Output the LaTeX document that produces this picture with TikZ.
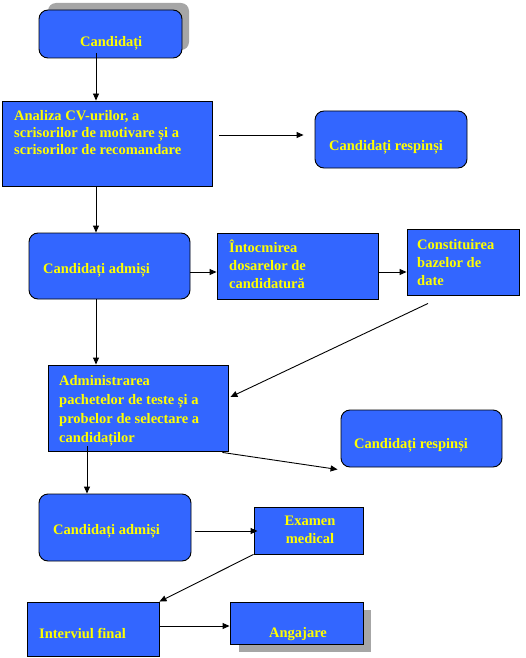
\documentclass[tikz,border=0pt]{standalone}
\usepackage{fontspec}
\setmainfont{Liberation Serif}
\usetikzlibrary{arrows.meta}
\definecolor{boxblue}{HTML}{3366FF}
\definecolor{txtyellow}{HTML}{FFFF00}
\tikzset{
  box/.style={draw=black,line width=0.9pt,fill=boxblue,inner sep=0pt},
  rbox/.style={box,rounded corners=9pt},
  txt/.style={text=txtyellow,inner sep=0pt,align=left,
    font=\fontsize{14.5}{18}\selectfont\bfseries},
  arr/.style={line width=0.9pt,-{Triangle[length=7pt,width=6pt]}},
  shadowfill/.style={fill=black!35}
}
\newcommand{\firstline}{\rule{0pt}{13pt}}
\begin{document}
\begin{tikzpicture}[x=1pt,y=-1pt]
    \useasboundingbox (0,0) rectangle (525,658);

    % Shadows
    \fill[shadowfill,rounded corners=8pt] (48,3) rectangle (189,50);
    \fill[shadowfill] (239,610) rectangle (371,652);

    % Boxes
    \node[rbox,minimum width=143pt,minimum height=48pt] (cand) at (110.5,34) {};
    \node[box,minimum width=210pt,minimum height=85pt] (analiza) at (107,143.5) {};
    \node[rbox,minimum width=152pt,minimum height=57pt] (resp1) at (391,139.5) {};
    \node[rbox,minimum width=161pt,minimum height=66pt] (adm1) at (109.5,266) {};
    \node[box,minimum width=161pt,minimum height=66pt] (intoc) at (297.5,266) {};
    \node[box,minimum width=112pt,minimum height=66pt] (const) at (463,262) {};
    \node[box,minimum width=180pt,minimum height=86pt] (admin) at (138,408) {};
    \node[rbox,minimum width=161pt,minimum height=57pt] (resp2) at (421.5,438.5) {};
    \node[rbox,minimum width=152pt,minimum height=67pt] (adm2) at (115,527.5) {};
    \node[box,minimum width=109pt,minimum height=47pt] (exam) at (308.5,530.5) {};
    \node[box,minimum width=132pt,minimum height=54pt] (interv) at (93,629) {};
    \node[box,minimum width=133pt,minimum height=42pt] (ang) at (296.5,623) {};

    % Texts
    \node[txt,anchor=base west] (tcand) at (80,47) {Candidați};
    \node[txt,anchor=north west,font=\fontsize{14.5}{17}\selectfont\bfseries] (tanaliza) at (14,107)
      {\firstline Analiza CV-urilor, a\\scrisorilor de motivare și a\\scrisorilor de recomandare};
    \node[txt,anchor=base west] (tresp1) at (329,150) {Candidați respinși};
    \node[txt,anchor=base west] (tadm1) at (43,273) {Candidați admiși};
    \node[txt,anchor=north west] (tintoc) at (229,239)
      {\firstline Întocmirea\\dosarelor de\\candidatură};
    \node[txt,anchor=north west] (tconst) at (417,236)
      {\firstline Constituirea\\bazelor de\\date};
    \node[txt,anchor=north west,font=\fontsize{14.5}{19}\selectfont\bfseries] (tadmin) at (59,372)
      {\firstline Administrarea\\pachetelor de teste și a\\probelor de selectare a\\candidaților};
    \node[txt,anchor=base west] (tresp2) at (354,448) {Candidați respinși};
    \node[txt,anchor=base west] (tadm2) at (53,534) {Candidați admiși};
    \node[txt,anchor=north,align=center] (texam) at (310,512)
      {\firstline Examen\\medical};
    \node[txt,anchor=base west] (tinterv) at (39,638) {Interviul final};
    \node[txt,anchor=base west] (tang) at (269,637) {Angajare};

    % Arrows
    \draw[arr] ([xshift=-14.5pt,yshift=5pt]cand.south) -- ([xshift=-14.5pt]cand.south |- analiza.north);
    \draw[arr] ([xshift=7pt,yshift=8.5pt]analiza.east) -- ([xshift=-11pt,yshift=4.5pt]resp1.west);
    \draw[arr] ([xshift=-11pt]analiza.south) -- ([xshift=-11pt]analiza.south |- adm1.north);
    \draw[arr] ([yshift=-6pt]adm1.east) -- ([yshift=-6pt]adm1.east -| intoc.west);
    \draw[arr] ([yshift=-6pt]intoc.east) -- ([yshift=-6pt]intoc.east -| const.west);
    \draw[arr] ([xshift=-35pt,yshift=-8pt]const.south) -- ([xshift=2pt,yshift=11pt]admin.east);
    \draw[arr] ([xshift=-13.5pt]adm1.south) -- ([xshift=-13.5pt]adm1.south |- admin.north);
    \draw[arr] ([xshift=-6pt,yshift=-1pt]admin.south east) -- ([xshift=-3pt,yshift=-2pt]resp2.south west);
    \draw[arr] ([xshift=-51pt,yshift=5pt]admin.south) -- ([xshift=-51pt]admin.south |- adm2.north);
    \draw[arr] ([xshift=4pt,yshift=-3.5pt]adm2.east) -- ([xshift=4pt,yshift=-3.5pt]adm2.east -| exam.west);
    \draw[arr] (exam.south west) -- (interv.north east);
    \draw[arr] ([yshift=3pt]interv.east) -- ([yshift=3pt]interv.east -| ang.west);
\end{tikzpicture}
\end{document}
